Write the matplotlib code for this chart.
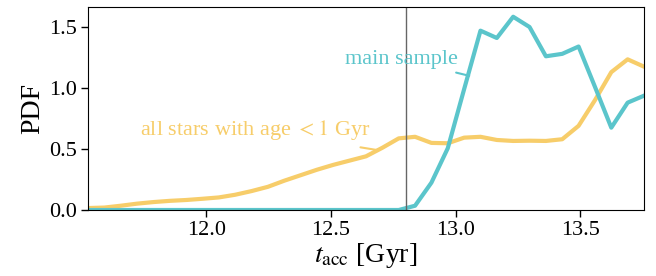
import numpy as np
import matplotlib
matplotlib.use("Agg")
import matplotlib.pyplot as plt

plt.rcParams['font.family'] = ['Liberation Serif', 'DejaVu Serif']
plt.rcParams['mathtext.fontset'] = 'stix'

# accretion time grid (bin centres) and PDFs
t_acc = np.linspace(11.526, 13.756, 35)

pdf_main = [0, 0, 0, 0, 0, 0, 0, 0, 0, 0,
            0, 0, 0, 0, 0, 0, 0, 0, 0, 0,
            0.035, 0.224, 0.506, 0.99, 1.47, 1.41, 1.584, 1.50, 1.26, 1.28,
            1.34, 1.01, 0.675, 0.88, 0.937]

pdf_young = [0.016, 0.02, 0.035, 0.052, 0.065, 0.075, 0.082, 0.092, 0.103, 0.125,
             0.155, 0.19, 0.24, 0.285, 0.33, 0.37, 0.405, 0.44, 0.51, 0.587,
             0.60, 0.55, 0.547, 0.593, 0.60, 0.574, 0.566, 0.568, 0.566, 0.58,
             0.69, 0.90, 1.13, 1.235, 1.175]

t_cut = 12.8

c_main = '#5BC5CB'
c_young = '#F7CD6A'

fig = plt.figure(figsize=(6.56, 2.76), dpi=100)
ax = fig.add_axes([88/656, 1 - 210/276, (644 - 88)/656, (210 - 7)/276])

ax.plot(t_acc, pdf_young, color=c_young, lw=3)
ax.plot(t_acc, pdf_main, color=c_main, lw=3)
ax.axvline(t_cut, color='#666666', lw=1)

ax.set_xlim(11.526, 13.756)
ax.set_ylim(0, 1.664)
ax.set_xticks([12.0, 12.5, 13.0, 13.5])
ax.set_yticks([0.0, 0.5, 1.0, 1.5])
ax.tick_params(labelsize=16, direction='out', length=5, width=1, pad=3)
ax.set_xlabel(r'$t_{\rm acc}$ [Gyr]', fontsize=20, labelpad=1)
ax.set_ylabel('PDF', fontsize=20, labelpad=3)

ax.annotate('main sample', xy=(13.055, 1.10), xytext=(12.785, 1.235),
            color=c_main, fontsize=16, ha='center', va='center',
            arrowprops=dict(arrowstyle='-', color=c_main, lw=1.5,
                            shrinkA=3, shrinkB=0))
ax.annotate(r'all stars with age $<1$ Gyr', xy=(12.69, 0.49), xytext=(12.195, 0.655),
            color=c_young, fontsize=16, ha='center', va='center',
            arrowprops=dict(arrowstyle='-', color=c_young, lw=1.5,
                            shrinkA=11, shrinkB=0))

fig.savefig('out.png', dpi=100)
